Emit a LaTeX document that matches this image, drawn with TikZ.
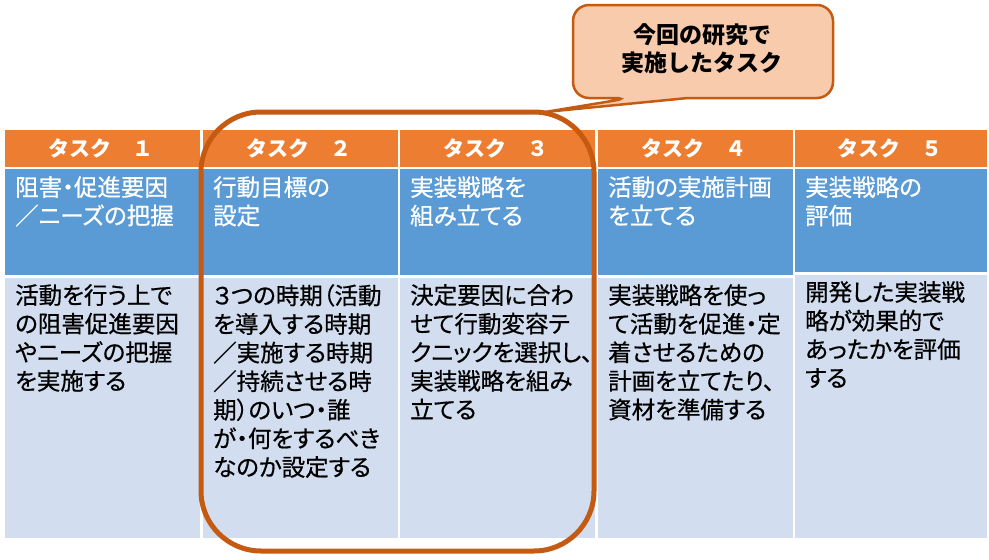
\documentclass[tikz,border=0pt]{standalone}
\usepackage{fontspec}
\newfontfamily\jpfont[RawFeature=+palt,FakeBold=0.6]{Noto Sans CJK JP}
\newfontfamily\jpwide{Noto Sans CJK JP}
\definecolor{taskorange}{HTML}{ED7D31}
\definecolor{taskblue}{HTML}{5B9BD5}
\definecolor{tasklight}{HTML}{D2DEEF}
\definecolor{framebrown}{HTML}{C55A11}
\definecolor{notepeach}{HTML}{F8CBAD}

\begin{document}
\begin{tikzpicture}[x=1pt,y=1pt]
    \tikzstyle{every node}+=[inner sep=0pt]
    \tikzstyle{head}=[text=white,font=\jpwide\bfseries\fontsize{21}{24}\selectfont]
    \tikzstyle{title}=[anchor=north west,align=left,text=white,font=\jpfont\fontsize{23.5}{28.5}\selectfont]
    \tikzstyle{body}=[anchor=north west,align=left,text=black,font=\jpfont\fontsize{23.5}{28.6}\selectfont]
    \tikzstyle{note}=[align=center,text=black,font=\jpwide\bfseries\fontsize{23}{28}\selectfont]
    \useasboundingbox (0,0) rectangle (989,-560);
    \fill [taskorange] (5,-129.5) rectangle (200,-167);
    \fill [taskorange] (203,-129.5) rectangle (398,-167);
    \fill [taskorange] (400,-129.5) rectangle (595,-167);
    \fill [taskorange] (598,-129.5) rectangle (793,-167);
    \fill [taskorange] (795,-129.5) rectangle (987,-167);
    \fill [taskblue] (5,-169) rectangle (200,-275);
    \fill [taskblue] (203,-169) rectangle (398,-275);
    \fill [taskblue] (400,-169) rectangle (595,-275);
    \fill [taskblue] (598,-169) rectangle (793,-275);
    \fill [taskblue] (795,-169) rectangle (987,-272);
    \fill [tasklight] (5,-278) rectangle (200,-538);
    \fill [tasklight] (203,-278) rectangle (398,-538);
    \fill [tasklight] (400,-278) rectangle (595,-538);
    \fill [tasklight] (598,-278) rectangle (793,-538);
    \fill [tasklight] (795,-275) rectangle (987,-538);
    \draw (101,-148) node [head] (h1) {タスク　１};
    \draw (299,-148) node [head] (h2) {タスク　２};
    \draw (496,-148) node [head] (h3) {タスク　３};
    \draw (694,-148) node [head] (h4) {タスク　４};
    \draw (890,-148) node [head] (h5) {タスク　５};
    \draw (15,-176) node [title] (t1) {阻害・促進要因\\／ニーズの把握};
    \draw (213,-176) node [title] (t2) {行動目標の\\設定};
    \draw (410,-176) node [title] (t3) {実装戦略を\\組み立てる};
    \draw (608,-176) node [title] (t4) {活動の実施計画\\を立てる};
    \draw (805,-176) node [title] (t5) {実装戦略の\\評価};
    \draw (15,-284) node [body] (b1) {活動を行う上で\\の阻害促進要因\\やニーズの把握\\を実施する};
    \draw (213,-284) node [body] (b2) {３つの時期（活動\\を導入する時期\\／実施する時期\\／持続させる時\\期）のいつ・誰\\が・何をするべき\\なのか設定する};
    \draw (410,-284) node [body] (b3) {決定要因に合わ\\せて行動変容テ\\クニックを選択し、\\実装戦略を組み\\立てる};
    \draw (608,-284) node [body] (b4) {実装戦略を使っ\\て活動を促進・定\\着させるための\\計画を立てたり、\\資材を準備する};
    \draw (805,-281) node [body] (b5) {開発した実装戦\\略が効果的で\\あったかを評価\\する};
    \draw [framebrown, line width=5pt, rounded corners=60pt] (201,-112) rectangle (594,-551);
    \filldraw [fill=notepeach, draw=framebrown, line width=2.5pt] (630,-98) -- (545,-112) -- (688,-98) [rounded corners=16pt] -- (833,-98) -- (833,-5) -- (573,-5) -- (573,-98) -- cycle;
    \draw (702,-49) node [note] (n1) {今回の研究で\\実施したタスク};
\end{tikzpicture}
\end{document}
